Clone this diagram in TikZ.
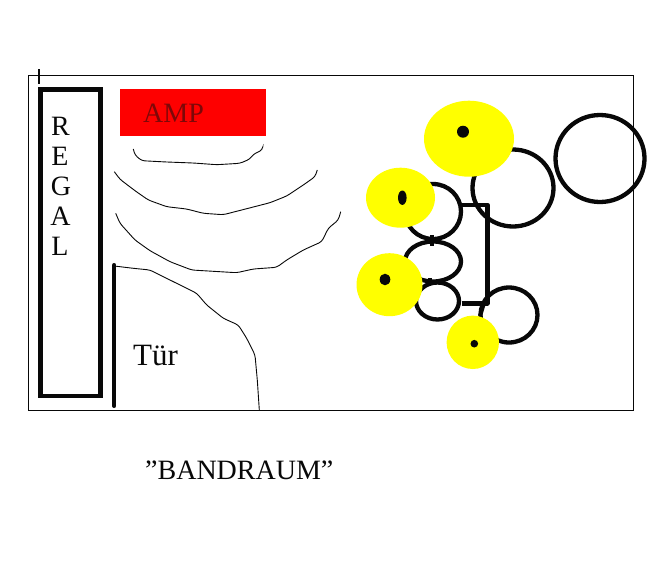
\documentclass[tikz,border=0pt]{standalone}
\usepackage{fontspec}
\setmainfont{Liberation Serif}
\definecolor{ampred}{RGB}{254,0,0}
\definecolor{amptext}{RGB}{125,8,8}
\definecolor{spot}{RGB}{255,255,0}
\definecolor{ink}{RGB}{8,8,8}
\tikzset{
  room/.style={draw=ink,line width=1.1pt},
  heavy/.style={draw=ink,line width=4.6pt},
  ring/.style={draw=ink,line width=4.3pt},
  wave/.style={draw=ink,line width=0.9pt,rounded corners=3pt},
  spotfill/.style={fill=spot},
  dot/.style={fill=ink},
  label/.style={anchor=base,inner sep=0pt,font=\fontsize{28}{28}\selectfont,text=ink},
  wlabel/.style={anchor=base west,inner sep=0pt,font=\fontsize{28}{28}\selectfont,text=ink}
}
\begin{document}
\begin{tikzpicture}[x=1pt,y=-1pt]
\useasboundingbox (0,0) rectangle (661,574);
\fill[white] (0,0) rectangle (661,574);
% room outline and tick
\draw[room] (28.5,75.5) rectangle (633.5,410.5);
\draw[draw=ink,line width=1.3pt] (39,69) -- (39,84);
% shelf
\draw[heavy] (40.5,89.5) rectangle (100.5,396);
\node[label] (r) at (60.5,135) {R};
\node[label] (e) at (60,165) {E};
\node[label] (g) at (61,195) {G};
\node[label] (a) at (60.5,225.5) {A};
\node[label] (l) at (60,255) {L};
% amp
\fill[ampred] (120,89) rectangle (266,136);
\node[wlabel,text=amptext] (amp) at (143,122.5) {AMP};
% sound waves
\draw[wave] (133.3,149) -- (135,155) -- (141.7,160.7) -- (166.7,162) -- (193.3,163) -- (216.7,164.7) -- (240,163.3) -- (250,159) -- (253.3,154.3) -- (262.3,150) -- (262.7,147.3);
\draw[wave] (114.3,171.7) -- (120,179.3) -- (135,190.7) -- (148.3,200) -- (166.7,206.7) -- (186.7,209) -- (203.3,213.3) -- (223.3,214.7) -- (246.7,208.7) -- (270,202.7) -- (286.7,196) -- (303.3,185) -- (315,176.7) -- (317.3,170);
\draw[wave] (115.7,213.3) -- (120,223.3) -- (135,240) -- (150,250.7) -- (170,261.7) -- (191.7,270) -- (213.3,271.3) -- (236.7,272.7) -- (253.3,269) -- (276.7,267.3) -- (286.7,260) -- (303.3,250) -- (321.7,241.7) -- (328.3,228.3) -- (338.3,220) -- (340.7,211.7);
% door
\draw[draw=ink,line width=4pt,line cap=round] (114.3,265) -- (114.3,406);
\draw[wave] (114.3,266) -- (133.3,268.3) -- (150,270) -- (170,280) -- (196.7,293.3) -- (206.7,305) -- (223.3,318.3) -- (238.3,325) -- (246.7,338.3) -- (255,355) -- (257.3,380) -- (259.3,410);
\node[wlabel,font=\fontsize{31}{31}\selectfont] (tuer) at (133,365) {Tür};
% drum kit: open rings
\draw[ring] (600,158.5) ellipse [x radius=44.5,y radius=43.5];
\draw[ring] (513,188) ellipse [x radius=40.5,y radius=38.5];
\draw[ring] (433,211.5) ellipse [x radius=28,y radius=27.5];
\draw[ring] (433,261.5) ellipse [x radius=28,y radius=20];
\draw[ring] (437.5,301) ellipse [x radius=21.5,y radius=18.5];
\draw[ring] (509,315) ellipse [x radius=28.5,y radius=27.5];
% frame between the rings
\draw[draw=ink,line width=4.6pt,line join=round] (461.7,205) -- (487.3,205) -- (487.3,303.3) -- (461.7,303.3);
\draw[draw=ink,line width=4pt] (432,235) -- (432,246);
\draw[draw=ink,line width=4pt] (430,278) -- (430,285);
\draw[draw=ink,line width=4pt] (484,303) -- (480,316);
% yellow cymbals with centre dots
\fill[spotfill] (469,138.7) ellipse [x radius=45,y radius=38];
\fill[spotfill] (400.5,197.7) ellipse [x radius=34.5,y radius=30];
\fill[spotfill] (389.5,284.7) ellipse [x radius=33,y radius=31.5];
\fill[spotfill] (472.8,342.3) ellipse [x radius=26.2,y radius=26.7];
\fill[dot] (463,131.7) circle [radius=6];
\fill[dot] (402.3,197.7) ellipse [x radius=4.3,y radius=7.2];
\fill[dot] (385,279.5) ellipse [x radius=5.3,y radius=5.8];
\fill[dot] (474.3,343.7) circle [radius=3.8];
% caption
\node[wlabel,font=\fontsize{28}{28}\selectfont] (title) at (145,479) {”BANDRAUM”};
\end{tikzpicture}
\end{document}
